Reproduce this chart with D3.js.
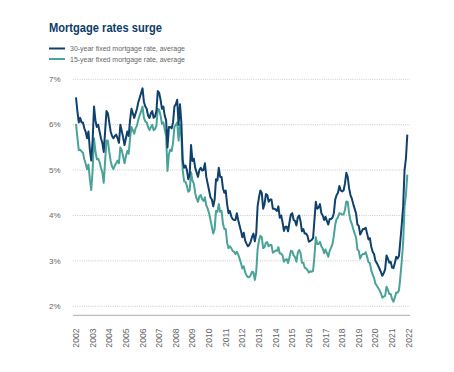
<!DOCTYPE html>
<html>
<head>
<meta charset="utf-8">
<script src="https://cdn.jsdelivr.net/npm/d3@7"></script>
<style>
  html, body { margin: 0; padding: 0; background: #fff; }
  svg { display: block; }
  text { font-family: "Liberation Sans", Arial, sans-serif; }
</style>
</head>
<body>
<svg id="chart" width="454" height="372"></svg>
<script>
// ---- data (monthly readings; first value = start of "2002" on the axis) ----
const startYear = 2002;
const yearTicks = d3.range(2002, 2023);
const yTicks = [2, 3, 4, 5, 6, 7];
const seriesNames = ["30-year fixed mortgage rate, average", "15-year fixed mortgage rate, average"];

const rate30 = [
  6.60, 6.30, 6.05, 6.15, 6.05, 6.05,
  5.92, 5.84, 5.70, 5.85, 5.45, 5.21, 5.65, 6.40, 6.10, 5.95, 6.00, 5.85,
  5.70, 5.60, 5.40, 5.85, 6.30, 6.25, 6.05, 5.85, 5.75, 5.70, 5.75, 5.78,
  5.70, 5.60, 6.00, 5.86, 5.72, 5.55, 5.70, 5.85, 5.75, 6.10, 6.35, 6.25,
  6.15, 6.25, 6.35, 6.50, 6.60, 6.70, 6.80, 6.50, 6.40, 6.35, 6.20, 6.15,
  6.25, 6.30, 6.15, 6.18, 6.30, 6.74, 6.70, 6.55, 6.35, 6.40, 6.20, 6.10,
  5.50, 5.95, 5.95, 5.92, 6.05, 6.40, 6.45, 6.55, 6.00, 6.45, 6.05, 5.20,
  5.05, 5.10, 5.00, 4.80, 4.90, 5.55, 5.20, 5.25, 5.05, 4.95, 4.85, 5.00,
  5.05, 4.99, 5.00, 5.15, 4.85, 4.70, 4.55, 4.40, 4.35, 4.20, 4.35, 4.80,
  4.77, 5.05, 4.85, 4.85, 4.60, 4.50, 4.55, 4.25, 4.05, 4.10, 3.98, 3.92,
  3.90, 3.90, 4.05, 3.90, 3.78, 3.66, 3.52, 3.62, 3.45, 3.38, 3.32, 3.35,
  3.42, 3.53, 3.60, 3.43, 3.60, 4.20, 4.40, 4.55, 4.50, 4.15, 4.25, 4.47,
  4.45, 4.30, 4.35, 4.35, 4.15, 4.15, 4.13, 4.10, 4.20, 3.95, 4.00, 3.85,
  3.66, 3.75, 3.75, 3.65, 3.85, 4.02, 4.05, 3.90, 3.88, 3.78, 3.96, 4.00,
  3.87, 3.65, 3.70, 3.60, 3.60, 3.55, 3.42, 3.44, 3.46, 3.50, 3.90, 4.30,
  4.15, 4.17, 4.25, 4.05, 4.00, 3.90, 3.97, 3.88, 3.80, 3.92, 3.92, 3.95,
  4.05, 4.35, 4.45, 4.50, 4.65, 4.55, 4.53, 4.55, 4.70, 4.94, 4.85, 4.60,
  4.45, 4.37, 4.25, 4.15, 4.05, 3.80, 3.77, 3.58, 3.64, 3.70, 3.70, 3.73,
  3.60, 3.47, 3.50, 3.31, 3.20, 3.15, 3.00, 2.95, 2.89, 2.82, 2.75, 2.67,
  2.73, 2.81, 3.12, 3.05, 2.96, 2.98, 2.85, 2.84, 2.95, 3.09, 3.05, 3.11,
  3.45, 3.80, 4.20, 5.00, 5.25, 5.78
];

const rate15 = [
  6.02, 5.72, 5.44, 5.45, 5.41, 5.38,
  5.24, 5.14, 5.02, 5.12, 4.80, 4.56, 5.00, 5.70, 5.42, 5.24, 5.25, 5.18,
  5.05, 4.95, 4.72, 5.20, 5.65, 5.65, 5.40, 5.20, 5.08, 5.02, 5.10, 5.15,
  5.21, 5.15, 5.50, 5.44, 5.30, 5.15, 5.30, 5.42, 5.36, 5.70, 5.95, 5.88,
  5.80, 5.92, 5.98, 6.12, 6.21, 6.30, 6.40, 6.15, 6.07, 6.05, 5.95, 5.88,
  5.94, 6.00, 5.88, 5.90, 5.98, 6.35, 6.33, 6.20, 6.02, 6.05, 5.90, 5.75,
  4.98, 5.35, 5.45, 5.42, 5.60, 5.95, 6.00, 6.05, 5.65, 6.00, 5.75, 5.00,
  4.75, 4.74, 4.65, 4.52, 4.55, 4.95, 4.77, 4.70, 4.49, 4.37, 4.30, 4.42,
  4.45, 4.36, 4.32, 4.40, 4.22, 4.15, 4.05, 3.90, 3.75, 3.60, 3.70, 4.10,
  4.08, 4.25, 4.08, 4.10, 3.82, 3.70, 3.70, 3.40, 3.28, 3.32, 3.28, 3.22,
  3.20, 3.15, 3.20, 3.14, 3.05, 2.95, 2.83, 2.88, 2.75, 2.68, 2.64, 2.64,
  2.69, 2.76, 2.75, 2.58, 2.75, 3.25, 3.45, 3.55, 3.52, 3.28, 3.30, 3.40,
  3.41, 3.32, 3.35, 3.35, 3.18, 3.20, 3.23, 3.22, 3.30, 3.16, 3.16, 3.12,
  2.98, 3.02, 3.04, 2.95, 3.08, 3.22, 3.21, 3.12, 3.08, 2.98, 3.18, 3.24,
  3.17, 2.96, 2.96, 2.85, 2.83, 2.80, 2.74, 2.77, 2.76, 2.78, 3.10, 3.52,
  3.37, 3.37, 3.42, 3.32, 3.27, 3.17, 3.25, 3.17, 3.09, 3.22, 3.29, 3.37,
  3.55, 3.80, 3.92, 3.96, 4.05, 4.04, 4.02, 4.02, 4.12, 4.31, 4.30, 4.05,
  3.89, 3.81, 3.70, 3.60, 3.52, 3.25, 3.22, 3.05, 3.12, 3.15, 3.15, 3.19,
  3.09, 2.97, 2.95, 2.79, 2.70, 2.62, 2.50, 2.45, 2.40, 2.35, 2.28, 2.19,
  2.21, 2.23, 2.43, 2.36, 2.27, 2.27, 2.16, 2.10, 2.19, 2.30, 2.30, 2.35,
  2.65, 3.00, 3.40, 4.20, 4.45, 4.90
];

// ---- layout ----
const svg = d3.select("#chart");
const navy = "#0f416c";
const teal = "#4aa398";
const textGray = "#666";

const x = d3.scaleLinear().domain([2002, 2022]).range([76, 408.7]);
const y = d3.scaleLinear().domain([1.8, 7]).range([315.3, 79.3]);

// title
const title = svg.append("text")
  .attr("x", 49).attr("y", 32)
  .attr("fill", "#0c3d68")
  .attr("font-weight", "bold")
  .attr("font-size", 12.5)
  .text("Mortgage rates surge");
const tw = title.node().getComputedTextLength();
if (Math.abs(tw - 113) > 2) title.attr("textLength", 113).attr("lengthAdjust", "spacingAndGlyphs");

// legend
const legendColors = [navy, teal];
seriesNames.forEach((name, i) => {
  const ly = 48.5 + i * 10.5;
  svg.append("line").attr("x1", 49).attr("x2", 65).attr("y1", ly).attr("y2", ly)
    .attr("stroke", legendColors[i]).attr("stroke-width", 2);
  const t = svg.append("text").attr("x", 70).attr("y", ly + 2.6)
    .attr("fill", textGray).attr("font-size", 7.4).text(name);
  const w = t.node().getComputedTextLength();
  if (Math.abs(w - 115) > 2) t.attr("textLength", 115).attr("lengthAdjust", "spacingAndGlyphs");
});

// gridlines
svg.append("g").selectAll("line").data(yTicks).join("line")
  .attr("x1", 73).attr("x2", 410)
  .attr("y1", d => y(d)).attr("y2", d => y(d))
  .attr("stroke", "#bdbdbd").attr("stroke-width", 0.8)
  .attr("stroke-dasharray", "1,1.2");

// y labels
svg.append("g").selectAll("text").data(yTicks).join("text")
  .attr("x", 60.5).attr("y", d => y(d))
  .attr("dy", "0.35em")
  .attr("text-anchor", "end")
  .attr("fill", textGray).attr("font-size", 8)
  .text(d => d + "%");

// baseline axis
svg.append("line").attr("x1", 73).attr("x2", 410)
  .attr("y1", 315.3).attr("y2", 315.3)
  .attr("stroke", "#aaa").attr("stroke-width", 1);

// x labels (rotated)
svg.append("g").selectAll("text").data(yearTicks).join("text")
  .attr("transform", d => `translate(${x(d) + 3},328.5) rotate(-90)`)
  .attr("text-anchor", "end")
  .attr("fill", textGray).attr("font-size", 8.6)
  .text(d => d);

// lines
const line = d3.line()
  .x((d, i) => x(startYear + i / 12))
  .y(d => y(d))
  .curve(d3.curveLinear);

svg.append("path").datum(rate15)
  .attr("d", line).attr("fill", "none")
  .attr("stroke", teal).attr("stroke-width", 2).attr("stroke-linejoin", "round");
svg.append("path").datum(rate30)
  .attr("d", line).attr("fill", "none")
  .attr("stroke", navy).attr("stroke-width", 2).attr("stroke-linejoin", "round");
</script>
</body>
</html>
